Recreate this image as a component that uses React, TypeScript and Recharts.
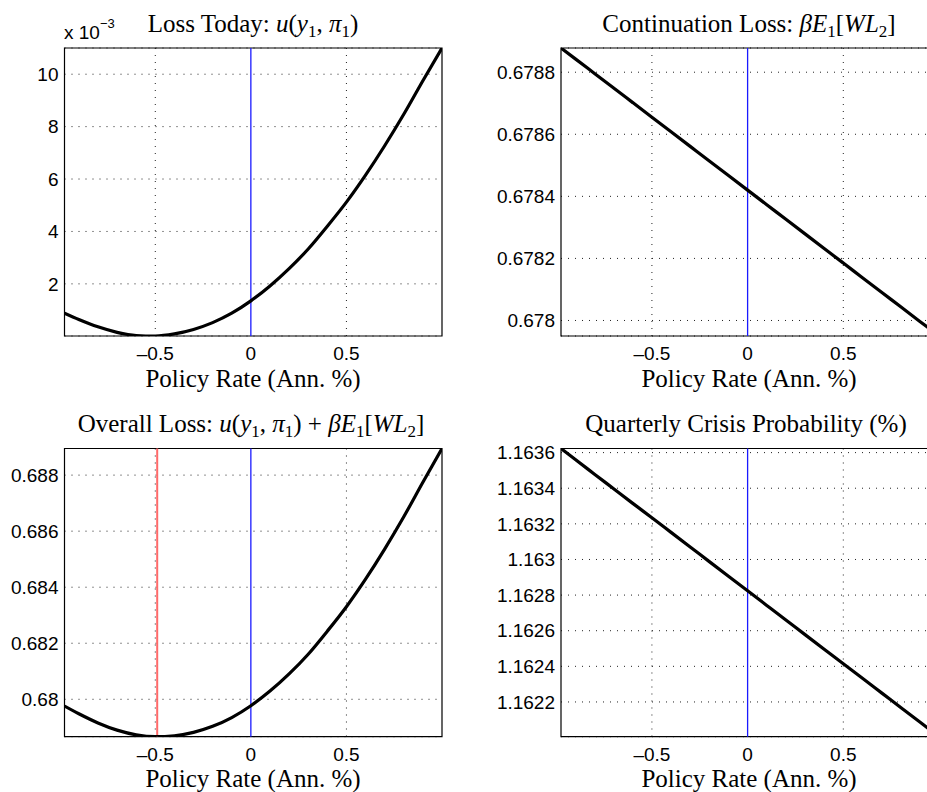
import { LineChart, Line, XAxis, YAxis, CartesianGrid, ReferenceLine, ReferenceArea } from 'recharts'

// policy rate grid (annualised %)
const policyRate = [
  -0.975, -0.9, -0.8, -0.7, -0.6, -0.5, -0.4, -0.3, -0.2, -0.1, 0,
  0.1, 0.2, 0.3, 0.4, 0.5, 0.6, 0.7, 0.8, 0.9, 1.0
]

// loss today u(y1, pi1)
const lossToday = [
  0.00088, 0.00064, 0.00036, 0.00015, 0.00003, 0.00001, 0.00009, 0.00026, 0.00052, 0.00088, 0.00135,
  0.00192, 0.00258, 0.00333, 0.0042, 0.00512, 0.00615, 0.00727, 0.00847, 0.00975, 0.011
]

// continuation loss beta E1[WL2]
const continuationLoss = [
  0.678878, 0.678843, 0.678796, 0.678749, 0.678702, 0.678655, 0.678608, 0.678561, 0.678514, 0.678467, 0.67842,
  0.678373, 0.678326, 0.678279, 0.678232, 0.678185, 0.678138, 0.678091, 0.678044, 0.677997, 0.67795
]

// overall loss
const overallLoss = [
  0.679758, 0.679483, 0.679156, 0.678899, 0.678732, 0.678665, 0.678698, 0.678821, 0.679034, 0.679347, 0.67977,
  0.680293, 0.680906, 0.681609, 0.682432, 0.683305, 0.684288, 0.685361, 0.686514, 0.687747, 0.68895
]

// quarterly crisis probability (%)
const crisisProb = [
  1.163623, 1.163561, 1.163479, 1.163397, 1.163315, 1.163234, 1.163152, 1.16307, 1.162988, 1.162906, 1.162824,
  1.162742, 1.16266, 1.162578, 1.162496, 1.162414, 1.162333, 1.162251, 1.162169, 1.162087, 1.162005
]

const xTicks = [-0.5, 0, 0.5]
const lossTodayTicks = [0.002, 0.004, 0.006, 0.008, 0.01]
const continuationTicks = [0.678, 0.6782, 0.6784, 0.6786, 0.6788]
const overallTicks = [0.68, 0.682, 0.684, 0.686, 0.688]
const crisisTicks = [1.1622, 1.1624, 1.1626, 1.1628, 1.163, 1.1632, 1.1634, 1.1636]
const optimalRate = -0.49

const X_MIN = policyRate[0]
const X_MAX = policyRate[policyRate.length - 1]

const SANS = '"Liberation Sans", Arial, Helvetica, sans-serif'
const SERIF = '"Liberation Serif", "Times New Roman", serif'

const fmtX = (v: number) => (v < 0 ? '\u2013' + Math.abs(v) : String(v))
const trim = (d: number) => (v: number) => String(parseFloat(v.toFixed(d)))

// vertical grid lines everywhere but at 0, where the blue line sits
const gridX = ({ offset }: any) =>
  xTicks.filter((t) => t !== 0).map((t) => offset.left + ((t - X_MIN) / (X_MAX - X_MIN)) * offset.width)

type PanelProps = {
  left: number
  top: number
  width: number
  plotTop: number
  yAxisWidth: number
  xAxisHeight: number
  right: number
  values: number[]
  yTicks: number[]
  yFormat: (v: number) => string
  optimum?: number
}

function Panel({ left, top, width, plotTop, yAxisWidth, xAxisHeight, right, values, yTicks, yFormat, optimum }: PanelProps) {
  const data = policyRate.map((x, i) => ({ x, v: values[i] }))
  const yMin = Math.min(...values)
  const yMax = Math.max(...values)
  return (
    <div style={{ position: 'absolute', left, top }}>
      <LineChart width={width} height={400} data={data} margin={{ top: plotTop, right, bottom: 0, left: 0 }}>
        <CartesianGrid stroke="#222" strokeDasharray="1 6" verticalCoordinatesGenerator={gridX} />
        <XAxis
          type="number"
          dataKey="x"
          domain={[X_MIN, X_MAX]}
          allowDataOverflow
          ticks={xTicks}
          interval={0}
          tickFormatter={fmtX}
          height={xAxisHeight}
          axisLine={false}
          tickLine={false}
          tickSize={6}
          tickMargin={5}
          tick={{ fill: '#000', fontSize: 19, fontFamily: SANS }}
        />
        <YAxis
          type="number"
          domain={[yMin, yMax]}
          allowDataOverflow
          ticks={yTicks}
          interval={0}
          tickFormatter={yFormat}
          width={yAxisWidth}
          axisLine={false}
          tickLine={false}
          tickSize={6}
          tickMargin={0}
          tick={{ fill: '#000', fontSize: 19, fontFamily: SANS }}
        />
        <ReferenceLine x={0} stroke="#1a1aff" strokeWidth={1.3} />
        {optimum !== undefined && <ReferenceLine x={optimum} stroke="#ff6a6a" strokeWidth={2} />}
        <Line type="monotone" dataKey="v" stroke="#000" strokeWidth={3.2} dot={false} isAnimationActive={false} />
        <ReferenceArea x1={X_MIN} x2={X_MAX} y1={yMin} y2={yMax} fill="none" fillOpacity={0} stroke="#000" strokeWidth={1.2} />
      </LineChart>
    </div>
  )
}

// title pieces: n = upright, i = italic, s = subscript
type Seg = [string, 'n' | 'i' | 's']

function MathText({ x, y, segs }: { x: number; y: number; segs: Seg[] }) {
  let low = false
  return (
    <text x={x} y={y}>
      {segs.map(([t, k], i) => {
        const dy = k === 's' ? (low ? 0 : 5) : low ? -5 : 0
        low = k === 's'
        return (
          <tspan key={i} dy={dy || undefined} fontStyle={k === 'i' ? 'italic' : undefined} fontSize={k === 's' ? 17 : undefined}>
            {t}
          </tspan>
        )
      })}
    </text>
  )
}

const uTerm: Seg[] = [['u', 'i'], ['(', 'n'], ['y', 'i'], ['1', 's'], [', ', 'n'], ['π', 'i'], ['1', 's'], [')', 'n']]
const wlTerm: Seg[] = [['βE', 'i'], ['1', 's'], ['[', 'n'], ['WL', 'i'], ['2', 's'], [']', 'n']]

export default function App() {
  return (
    <div style={{ position: 'absolute', left: 0, top: 0, width: 927, height: 792, overflow: 'hidden', background: '#fff' }}>
      <Panel left={0} top={0} width={460} plotTop={48} yAxisWidth={64.5} xAxisHeight={64} right={18}
        values={lossToday} yTicks={lossTodayTicks} yFormat={(v) => String(Math.round(v * 1000))} />
      <Panel left={460} top={0} width={480} plotTop={48} yAxisWidth={101} xAxisHeight={64} right={1}
        values={continuationLoss} yTicks={continuationTicks} yFormat={trim(4)} />
      <Panel left={0} top={400} width={460} plotTop={48.5} yAxisWidth={64.5} xAxisHeight={63.3} right={18}
        values={overallLoss} yTicks={overallTicks} yFormat={trim(3)} optimum={optimalRate} />
      <Panel left={460} top={400} width={480} plotTop={48.5} yAxisWidth={101} xAxisHeight={63.3} right={1}
        values={crisisProb} yTicks={crisisTicks} yFormat={trim(4)} />

      <svg width={927} height={792} style={{ position: 'absolute', left: 0, top: 0, pointerEvents: 'none' }}>
        <g fontFamily={SERIF} fontSize={25} fill="#000" textAnchor="middle">
          <MathText x={253} y={31.5} segs={[['Loss Today: ', 'n'], ...uTerm]} />
          <MathText x={749} y={31.5} segs={[['Continuation Loss: ', 'n'], ...wlTerm]} />
          <MathText x={251} y={431.5} segs={[['Overall Loss: ', 'n'], ...uTerm, [' + ', 'n'], ...wlTerm]} />
          <text x={746} y={431.5}>Quarterly Crisis Probability (%)</text>
          <text x={253} y={386.5}>Policy Rate (Ann. %)</text>
          <text x={749} y={386.5}>Policy Rate (Ann. %)</text>
          <text x={253} y={786.5}>Policy Rate (Ann. %)</text>
          <text x={749} y={786.5}>Policy Rate (Ann. %)</text>
        </g>
        <text x={64} y={38.5} fontFamily={SANS} fontSize={19} fill="#000">
          x 10<tspan fontSize={13} dy={-11}>−3</tspan>
        </text>
      </svg>
    </div>
  )
}
